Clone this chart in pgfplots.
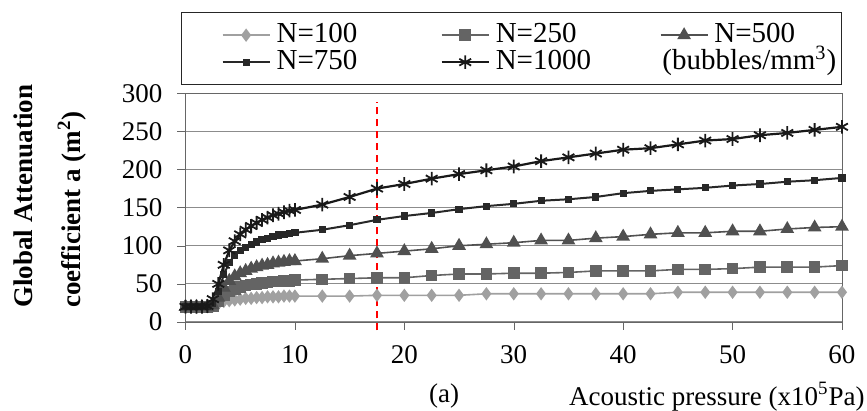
\documentclass[border=0pt]{standalone}
\usepackage{fontspec}
\setmainfont{Liberation Serif}
\usepackage{pgfplots}
\usepackage{pgfplotstable}
\pgfplotsset{compat=1.18}

\definecolor{c100}{RGB}{160,160,160}
\definecolor{c250}{RGB}{100,100,100}
\definecolor{c500}{RGB}{80,80,80}
\definecolor{c750}{RGB}{40,40,40}
\definecolor{c1000}{RGB}{25,25,25}

\pgfplotstableread{
x    n100 n250 n500 n750 n1000
0    20   20   20   20   20
0.5  20   20   20   20   20
1    19   20   20   20   20
1.5  20   20   20   20   20
2    20   20   20   21   21
2.5  21   21   22   24   30
3    24   27   32   40   50
3.5  27   35   45   62   75
4    28   40   54   78   94
4.5  29   43   60   88   106
5    30   46   64   94   115
5.5  31   48   67   98   121
6    31   49   70   102  126
6.5  32   50   72   105  130
7    32   51   74   108  134
7.5  33   52   75   110  137
8    33   53   77   112  140
8.5  33   53   78   114  142
9    34   54   79   115  144
9.5  34   54   80   116  146
10   34   55   80   117  147
12.5 34   56   83   121  154
15   34   57   87   127  164
17.5 35   58   90   134  175
20   35   58   93   139  181
22.5 35   61   96   143  188
25   35   63   100  148  194
27.5 37   63   102  152  199
30   37   64   104  155  204
32.5 37   64   107  159  211
35   37   65   107  161  216
37.5 37   67   110  164  221
40   37   67   112  169  226
42.5 37   67   115  172  228
45   39   69   117  174  233
47.5 39   69   117  176  238
50   39   70   119  179  240
52.5 39   72   119  181  245
55   39   72   122  184  248
57.5 39   72   124  186  252
60   39   74   125  189  256
}\atten

\newcommand{\legA}[1]{\makebox[79pt][l]{#1}}
\newcommand{\legB}[1]{\makebox[40.5pt][l]{#1}}

\begin{document}
\begin{tikzpicture}
\useasboundingbox (-92.75pt,-44.5pt) rectangle (340.75pt,161pt);
\begin{axis}[
    at={(0,0)}, anchor=south west,
    scale only axis,
    width=328.25pt, height=114.35pt,
    xmin=0, xmax=60, ymin=0, ymax=300,
    xtick={0,10,...,60},
    ytick={0,50,...,300},
    axis line style={draw=black!60},
    tick style={draw=black!60},
    tick align=outside,
    xtick pos=bottom, ytick pos=left,
    major tick length=4pt,
    ymajorgrids,
    grid style={draw=black!45, line width=0.5pt},
    /pgf/number format/assume math mode=true,
    ticklabel style={font=\fontsize{13.5}{15}\selectfont},
    xticklabel style={yshift=-4pt},
    yticklabel style={xshift=-4pt},
    clip=false,
    xlabel={Acoustic pressure (x10\textsuperscript{5}Pa)},
    xlabel style={font=\fontsize{13.5}{15}\selectfont, inner sep=0pt,
        at={(axis description cs:1.035,-0.363)}, anchor=base east},
    ylabel={Global Attenuation\\coefficient a (m\textsuperscript{2})},
    ylabel style={font=\fontsize{13.5}{24}\selectfont\bfseries, align=left, inner sep=0pt,
        at={(axis description cs:-0.2064,0.0612)}, anchor=west},
    legend columns=3,
    legend cell align=left,
    legend style={at={(axis description cs:0.4966,1.195)}, anchor=center,
        draw=black!85, line width=0.7pt, inner xsep=20pt, inner ysep=5pt,
        font=\fontsize{14.5}{13}\selectfont, row sep=1pt,
        nodes={inner xsep=3pt, inner ysep=0pt, text height=10pt, text depth=2.5pt}},
    legend image code/.code={\draw[mark repeat=2,mark phase=2] plot coordinates {(0pt,0pt)(11.75pt,0pt)(23.5pt,0pt)};},
]
\addplot[c100, line width=0.8pt, mark=diamond*, mark size=2.7pt, mark options={fill=c100, draw=c100}] table[x=x,y=n100]{\atten};
\addlegendentry{\legA{N=100}}
\addplot[c250, line width=0.8pt, mark=square*, mark size=2.5pt, mark options={fill=c250, draw=c250}] table[x=x,y=n250]{\atten};
\addlegendentry{\legA{N=250}}
\addplot[c500, line width=0.8pt, mark=triangle*, mark size=3.2pt, mark options={fill=c500, draw=c500}] table[x=x,y=n500]{\atten};
\addlegendentry{\legB{N=500}}
\addplot[c750, line width=1pt, mark=square*, mark size=1.3pt, mark options={fill=c750, draw=c750}] table[x=x,y=n750]{\atten};
\addlegendentry{\legA{N=750}}
\addplot[c1000, line width=1.1pt, mark=asterisk, mark size=3.4pt, mark options={draw=c1000, line width=0.9pt}] table[x=x,y=n1000]{\atten};
\addlegendentry{\legA{N=1000}}
\addlegendimage{empty legend}
\addlegendentry{\legB{\hspace*{-26pt}(bubbles/mm\textsuperscript{3})}}
\addplot[red, line width=1pt, dash pattern=on 3.5pt off 2.5pt, forget plot] coordinates {(17.5,-11) (17.5,289)};
\node[font=\fontsize{13.5}{15}\selectfont, inner sep=0pt, anchor=base] at (axis description cs:0.3938,-0.354) {(a)};
\end{axis}
\end{tikzpicture}
\end{document}
